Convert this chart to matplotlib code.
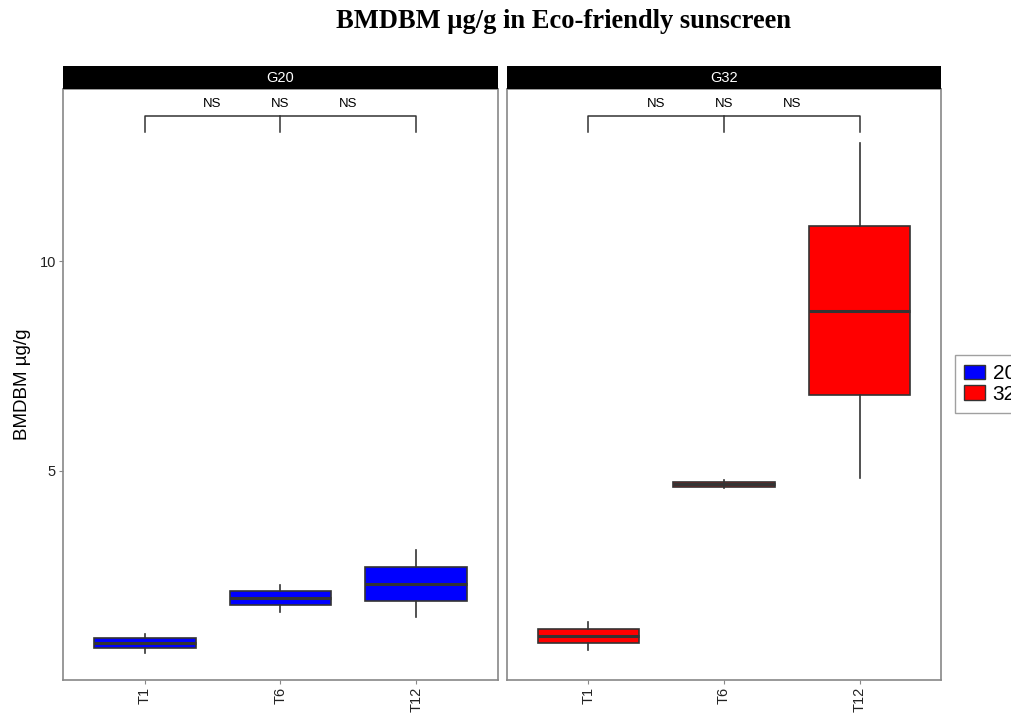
import matplotlib.pyplot as plt
from matplotlib.patches import Patch, Rectangle

plt.rcParams["font.family"] = ["Liberation Sans", "DejaVu Sans"]

# --------------------
# data
# --------------------
groups = ["G20", "G32"]
times = ["T1", "T6", "T12"]
fill_colors = ["#0000FF", "#FF0000"]
legend_labels = ["20", "32"]

# whisker low, q1, median, q3, whisker high
g20_low = [0.67, 1.64, 1.52]
g20_q1 = [0.79, 1.81, 1.90]
g20_med = [0.90, 1.98, 2.31]
g20_q3 = [1.02, 2.14, 2.71]
g20_high = [1.12, 2.29, 3.12]

g32_low = [0.74, 4.60, 4.83]
g32_q1 = [0.90, 4.62, 6.81]
g32_med = [1.07, 4.69, 8.81]
g32_q3 = [1.24, 4.74, 10.83]
g32_high = [1.40, 4.79, 12.81]

sig_labels = ["NS", "NS", "NS"]
sig_x = [1.5, 2.0, 2.5]
bracket_y = 13.45

series = [
    (g20_low, g20_q1, g20_med, g20_q3, g20_high),
    (g32_low, g32_q1, g32_med, g32_q3, g32_high),
]

fig = plt.figure(figsize=(10.11, 7.14), dpi=100)

W, H = 1011, 714
panels = [(63, 435), (507, 434)]
top, bottom = 89, 680

for i, (x0, w) in enumerate(panels):
    ax = fig.add_axes([x0 / W, 1 - bottom / H, w / W, (bottom - top) / H])
    low, q1, med, q3, high = series[i]
    stats = []
    for j in range(len(times)):
        stats.append(dict(whislo=low[j], q1=q1[j], med=med[j], q3=q3[j],
                          whishi=high[j], fliers=[]))
    ax.bxp(stats, positions=[1, 2, 3], widths=0.75, patch_artist=True,
           showcaps=False,
           boxprops=dict(facecolor=fill_colors[i], edgecolor="#333333", linewidth=1.2),
           medianprops=dict(color="#333333", linewidth=2.2),
           whiskerprops=dict(color="#333333", linewidth=1.2))
    ax.set_xlim(0.4, 3.6)
    ax.set_ylim(0.02, 14.1)
    ax.set_xticks([1, 2, 3])
    ax.set_xticklabels(times, rotation=90, fontsize=10.5)
    if i == 0:
        ax.set_yticks([5, 10])
        ax.set_yticklabels(["5", "10"], fontsize=10.5)
        ax.set_ylabel("BMDBM µg/g", fontsize=13.5, labelpad=6)
    else:
        ax.set_yticks([])
    for s in ax.spines.values():
        s.set_color("#888888")
        s.set_linewidth(1.2)
    ax.tick_params(colors="#888888", labelcolor="#222222", length=3, pad=2)

    # significance bracket
    ax.plot([1, 1, 3, 3], [bracket_y - 0.38, bracket_y, bracket_y, bracket_y - 0.38],
            color="#333333", lw=1.1)
    ax.plot([2, 2], [bracket_y, bracket_y - 0.38], color="#333333", lw=1.1)
    for xs, lab in zip(sig_x, sig_labels):
        ax.text(xs, bracket_y + 0.14, lab, ha="center", va="bottom", fontsize=9.5)

    # strip
    sax = fig.add_axes([x0 / W, 1 - top / H, w / W, 23 / H])
    sax.add_patch(Rectangle((0, 0), 1, 1, color="black", transform=sax.transAxes))
    sax.text(0.5, 0.5, groups[i], color="white", ha="center", va="center", fontsize=10.5)
    sax.set_axis_off()

fig.text(564 / W, 1 - 28 / H, "BMDBM µg/g in Eco-friendly sunscreen",
         ha="center", va="baseline", fontsize=19.1, fontweight="bold",
         family="Liberation Serif")

handles = [Patch(facecolor=c, edgecolor="#333333") for c in fill_colors]
fig.legend(handles, legend_labels, loc="center left",
           bbox_to_anchor=(955 / W, 1 - 384 / H), borderaxespad=0,
           fontsize=15, frameon=True, edgecolor="#888888", fancybox=False,
           handlelength=1.0, handleheight=0.7, handletextpad=0.35,
           labelspacing=0.05, borderpad=0.45)

fig.savefig("out.png", dpi=100)
